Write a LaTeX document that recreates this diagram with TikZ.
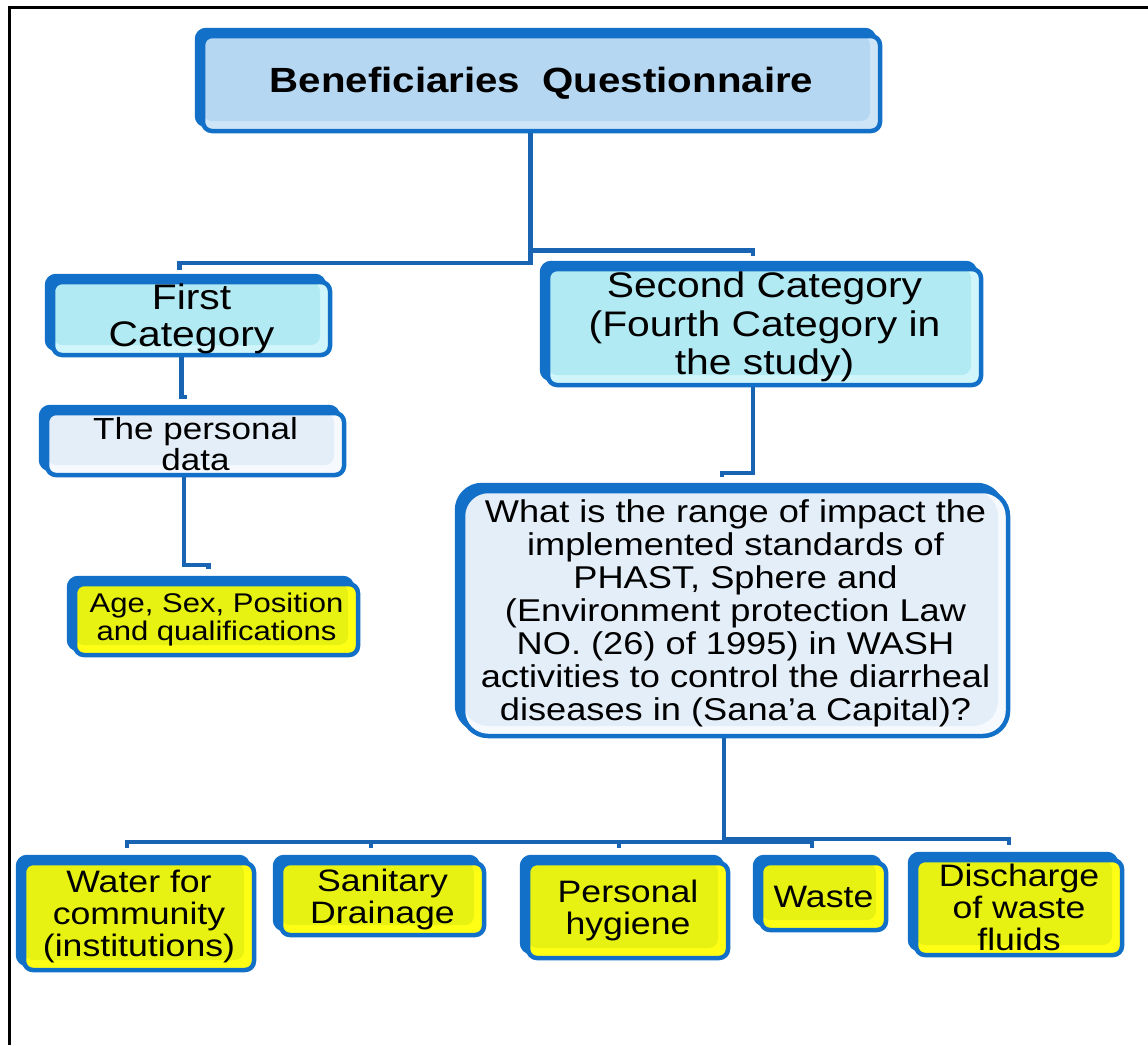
\documentclass[tikz,border=0pt]{standalone}
\usepackage{fontspec}
\usetikzlibrary{shadows}
\newfontfamily\boxfont[FakeStretch=1.15]{Liberation Sans}

\definecolor{boxblue}{RGB}{18,112,200}
\definecolor{linkblue}{RGB}{24,100,178}
\definecolor{titlemain}{RGB}{181,215,242}
\definecolor{titleband}{RGB}{206,229,248}
\definecolor{catmain}{RGB}{178,234,243}
\definecolor{catband}{RGB}{208,246,251}
\definecolor{datamain}{RGB}{228,238,248}
\definecolor{databand}{RGB}{246,250,254}
\definecolor{itemmain}{RGB}{232,242,18}
\definecolor{itemband}{RGB}{255,255,22}

\tikzset{
  qbox/.style 2 args={draw=boxblue, line width=4.5pt, rounded corners=9pt,
    fill=#2, inner sep=0pt, align=center, font=\boxfont,
    general shadow={shadow xshift=-6pt, shadow yshift=6pt, fill=boxblue, draw=boxblue},
    path picture={\fill[#1] (path picture bounding box.north west)
      rectangle ([shift={(-10pt,10pt)}]path picture bounding box.south east);}},
  titlebox/.style={qbox={titlemain}{titleband}},
  catbox/.style={qbox={catmain}{catband}},
  databox/.style={qbox={datamain}{databand}},
  itembox/.style={qbox={itemmain}{itemband}},
  link/.style={draw=linkblue, line width=4.5pt},
}

\begin{document}
\begin{tikzpicture}[x=1pt, y=-1pt]

    \useasboundingbox (0, 0) rectangle (1148, 1045);

    % Frame on the left and top
    \draw[line width=3pt] (9, 1045) -- (9, 7) -- (1148, 7);

    % Top of the tree
    \node[titlebox, minimum width=677, minimum height=95,
          font=\boxfont\bfseries\fontsize{35}{40}\selectfont]
        (title) at (541.5, 83.5) {Beneficiaries~~Questionnaire};

    % The two categories
    \node[catbox, minimum width=277, minimum height=73,
          font=\boxfont\fontsize{35.5}{37}\selectfont]
        (first) at (191.5, 318.5) {First\\Category};
    \node[catbox, minimum width=433, minimum height=116,
          font=\boxfont\fontsize{35.5}{38.5}\selectfont]
        (second) at (764.5, 327) {Second Category\\(Fourth Category in\\the study)};

    % Left branch
    \node[databox, minimum width=297, minimum height=62,
          font=\boxfont\fontsize{30.5}{31}\selectfont]
        (personal) at (195.5, 444) {The personal\\data};
    \node[itembox, minimum width=283, minimum height=71,
          font=\boxfont\fontsize{27}{28.5}\selectfont]
        (age) at (216.5, 619.5) {Age, Sex, Position\\and qualifications};

    % Right branch
    \node[databox, rounded corners=25pt, minimum width=545, minimum height=245,
          font=\boxfont\fontsize{31.5}{33}\selectfont]
        (question) at (735.5, 613.5) {What is the range of impact the\\implemented standards of\\PHAST, Sphere and\\(Environment protection Law\\NO. (26) of 1995) in WASH\\activities to control the diarrheal\\diseases in (Sana’a Capital)?};

    % The five fields of WASH
    \foreach \n/\x/\y/\w/\h/\txt in {
        water/139/916.5/230/107/{Water for\\community\\(institutions)},
        sanitary/382.5/899/203/72/{Sanitary\\Drainage},
        hygiene/628/910.5/200/95/{Personal\\hygiene},
        waste/823.5/896.5/125/67/{Waste},
        discharge/1019/907.5/206/95/{Discharge\\of waste\\fluids}} {
        \node[itembox, minimum width=\w, minimum height=\h,
              font=\boxfont\fontsize{31}{32}\selectfont]
            (\n) at (\x, \y) {\txt};
    }

    % Connectors
    \draw[link] ([xshift=-11pt]title.south) |- ([xshift=-12pt, yshift=17pt]first.north)
        -- ([xshift=-12pt, yshift=10pt]first.north);
    \draw[link] ([xshift=-11pt, yshift=-117pt]title.south) -| ([xshift=-11.5pt, yshift=11pt]second.north);
    \draw[link] ([xshift=-10pt]first.south) |- ([xshift=-9pt, yshift=14pt]personal.north);
    \draw[link] ([xshift=-11.5pt]personal.south) |- ([xshift=-8pt, yshift=17pt]age.north)
        -- ([xshift=-8pt, yshift=13pt]age.north);
    \draw[link] ([xshift=-11.5pt]second.south) |- ([xshift=-13.5pt, yshift=16pt]question.north)
        -- ([xshift=-13.5pt, yshift=12pt]question.north);
    \foreach \n/\dx in {water/-12, sanitary/-11.5, hygiene/-9, waste/-11.5, discharge/-10} {
        \draw[link] ([xshift=-11.5pt]question.south) |- ([xshift=\dx pt, yshift=19pt]\n.north)
            -- ([xshift=\dx pt, yshift=13pt]\n.north);
    }

\end{tikzpicture}
\end{document}
